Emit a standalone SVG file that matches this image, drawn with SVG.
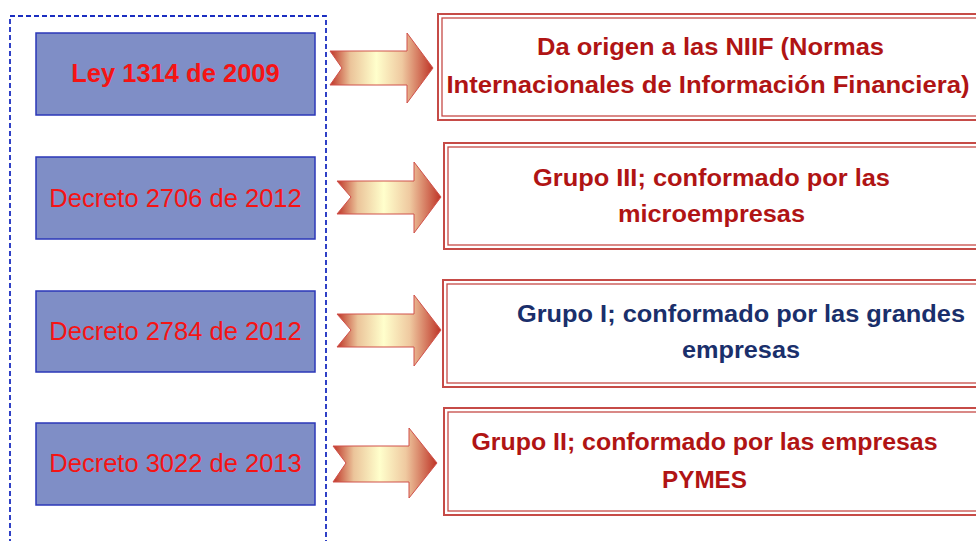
<svg xmlns="http://www.w3.org/2000/svg" width="976" height="541" viewBox="0 0 976 541">
<defs>
<linearGradient id="ag" x1="0" y1="0" x2="1" y2="0">
<stop offset="0" stop-color="#BE3326"/>
<stop offset="0.2" stop-color="#EBC49A"/>
<stop offset="0.45" stop-color="#FFFFCC"/>
<stop offset="0.7" stop-color="#EFC9A0"/>
<stop offset="1" stop-color="#BE3326"/>
</linearGradient>
<style>
.src rect{fill:#7F8EC6;stroke:#2B37B8;stroke-width:1.5}
.src text{font-family:"Liberation Sans",Arial,sans-serif;font-size:25.5px;fill:#F51414;text-anchor:middle}
.dst .o{fill:#fff;stroke:#C64B47;stroke-width:2}
.dst .i{fill:none;stroke:#C64B47;stroke-width:1.3}
.dst text{font-family:"Liberation Sans",Arial,sans-serif;font-size:23px;font-weight:bold;fill:#B01414;text-anchor:middle}
.arr{fill:url(#ag);stroke:#D0504A;stroke-width:1}
</style>
</defs>
<rect x="10" y="16" width="316" height="560" fill="none" stroke="#1A2DC0" stroke-width="1.8" stroke-dasharray="5,3"/>

<g id="ley1314" class="src"><rect x="36" y="33" width="279" height="82"/><text x="175.5" y="82" font-weight="bold">Ley 1314 de 2009</text></g>
<g id="decreto2706" class="src"><rect x="36" y="157" width="279" height="82"/><text x="175.5" y="207">Decreto 2706 de 2012</text></g>
<g id="decreto2784" class="src"><rect x="36" y="291" width="279" height="81"/><text x="175.5" y="340">Decreto 2784 de 2012</text></g>
<g id="decreto3022" class="src"><rect x="36" y="423" width="279" height="82"/><text x="175.5" y="472">Decreto 3022 de 2013</text></g>

<g id="connectors">
<polygon class="arr" points="330,51 407,51 407,33 433,68 407,103 407,85 330,85 342,68"/>
<polygon class="arr" points="337,181 414,181 414,162 441,197 414,233 414,214 337,214 351,197"/>
<polygon class="arr" points="337,314 414,314 414,295 441,330 414,366 414,347 337,347 351,330"/>
<polygon class="arr" points="333,446 409,446 409,428 437,463 409,498 409,482 333,482 346,463"/>
</g>

<g id="niif" class="dst"><rect class="o" x="438" y="14" width="560" height="106"/><rect class="i" x="442" y="18" width="560" height="98"/>
<text x="710.5" y="55" textLength="347" lengthAdjust="spacingAndGlyphs">Da origen a las NIIF (Normas</text>
<text x="708" y="93" textLength="523" lengthAdjust="spacingAndGlyphs">Internacionales de Información Financiera)</text></g>
<g id="grupo3" class="dst"><rect class="o" x="444" y="143" width="560" height="106"/><rect class="i" x="448" y="147" width="560" height="98"/>
<text x="711.5" y="186" textLength="357" lengthAdjust="spacingAndGlyphs">Grupo III; conformado por las</text>
<text x="711.5" y="222" textLength="187" lengthAdjust="spacingAndGlyphs">microempresas</text></g>
<g id="grupo1" class="dst"><rect class="o" x="443" y="280" width="560" height="107"/><rect class="i" x="447" y="284" width="560" height="99"/>
<text x="741" y="322" textLength="448" lengthAdjust="spacingAndGlyphs" style="fill:#1A2F6B">Grupo I; conformado por las grandes</text>
<text x="741" y="358" textLength="118" lengthAdjust="spacingAndGlyphs" style="fill:#1A2F6B">empresas</text></g>
<g id="grupo2" class="dst"><rect class="o" x="444" y="408" width="560" height="107"/><rect class="i" x="448" y="412" width="560" height="99"/>
<text x="704.5" y="450" textLength="466" lengthAdjust="spacingAndGlyphs">Grupo II; conformado por las empresas</text>
<text x="704.5" y="488" textLength="85" lengthAdjust="spacingAndGlyphs">PYMES</text></g>
</svg>
